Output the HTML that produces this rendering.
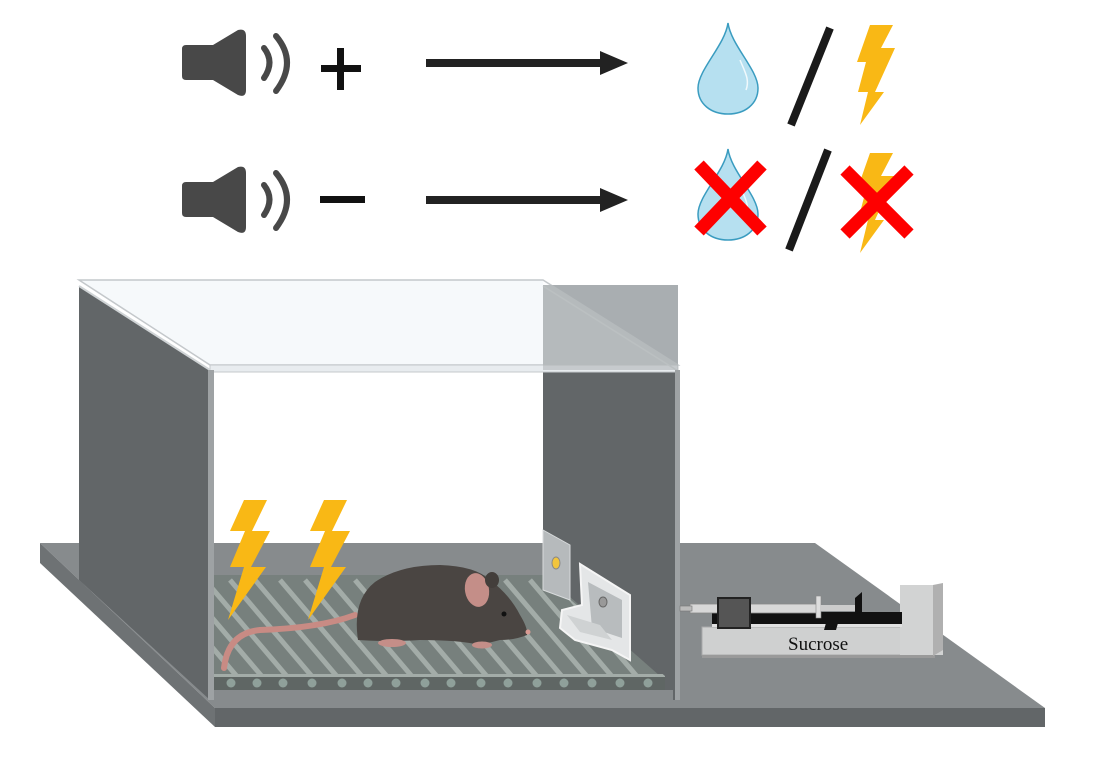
<!DOCTYPE html>
<html><head><meta charset="utf-8"><style>html,body{margin:0;padding:0;background:#fff}svg{display:block}</style></head>
<body>
<svg width="1097" height="768" viewBox="0 0 1097 768" xmlns="http://www.w3.org/2000/svg">
<defs>
<g id="spk">
  <path d="M186,45 L213,45 L238,30 Q246,28 246,36 L246,90 Q246,98 238,95 L213,80 L186,80 Q182,80 182,76 L182,49 Q182,45 186,45 Z" fill="#484848"/>
  <path d="M264,48 Q275,62 264,78" fill="none" stroke="#484848" stroke-width="6" stroke-linecap="round"/>
  <path d="M276,36 Q298,62 276,91" fill="none" stroke="#484848" stroke-width="6" stroke-linecap="round"/>
</g>
<g id="arrow">
  <rect x="426" y="59" width="176" height="8" fill="#222"/>
  <polygon points="600,51 628,63 600,75" fill="#222"/>
</g>
<g id="drop">
  <path d="M728,23 C731,45 758,70 758,88 C758,104 745,114 728,114 C711,114 698,104 698,88 C698,70 725,45 728,23 Z" fill="#b6e0f0" stroke="#3a9cc0" stroke-width="1.5"/>
  <path d="M740,60 C745,72 750,80 746,90" fill="none" stroke="#fff" stroke-width="1.5" opacity="0.8"/>
</g>
<g id="bolt">
  <polygon points="870,25 893,25 881,48 895,48 875,92 884,92 860,125 868,92 858,92 866,62 857,62" fill="#f9b815"/>
</g>
<g id="bigbolt">
  <polygon points="244,500 267,500 252,531 270,531 251,567 266,567 228,620 244,567 230,567 245,531 230,531" fill="#f9b815"/>
</g>
<clipPath id="fl2"><polygon points="213,578 545,578 660,676 213,676"/></clipPath>
</defs>

<use href="#spk"/>
<rect x="321" y="65" width="40" height="7" fill="#111"/>
<rect x="337" y="48" width="7" height="42" fill="#111"/>
<use href="#arrow"/>
<use href="#drop"/>
<line x1="791" y1="125" x2="830" y2="28" stroke="#1a1a1a" stroke-width="8"/>
<use href="#bolt"/>

<use href="#spk" transform="translate(0,137)"/>
<rect x="320" y="196" width="45" height="7" fill="#111"/>
<use href="#arrow" transform="translate(0,137)"/>
<use href="#drop" transform="translate(0,126)"/>
<line x1="789" y1="250" x2="828" y2="150" stroke="#1a1a1a" stroke-width="8"/>
<use href="#bolt" transform="translate(0,128)"/>
<g stroke="#fe0000" stroke-width="13">
  <line x1="699" y1="165" x2="762" y2="231"/><line x1="762" y1="165" x2="699" y2="231"/>
  <line x1="845" y1="170" x2="909" y2="234"/><line x1="909" y1="170" x2="845" y2="234"/>
</g>

<polygon points="40,543 815,543 1045,708 215,708" fill="#878b8d"/>
<polygon points="40,543 215,708 215,727 40,563" fill="#6e7274"/>
<rect x="215" y="708" width="830" height="19" fill="#626668"/>

<polygon points="79,286 210,370 210,700 79,580" fill="#626668"/>
<rect x="543" y="285" width="135" height="415" fill="#626668"/>
<rect x="543" y="285" width="135" height="85" fill="#a9aeb1"/>
<rect x="212" y="370" width="331" height="173" fill="#ffffff"/>
<rect x="212" y="543" width="331" height="32" fill="#878b8d"/>
<!-- lid (transparent) -->
<polygon points="79,280 543,280 678,365 210,365" fill="#f5f8fb" opacity="0.35"/>
<polygon points="79,280 543,280 543,370 210,365" fill="#f5f8fb" opacity="0.9" clip-path="none"/>
<polygon points="79,280 543,280 678,365 210,365" fill="none" stroke="#c4c8cb" stroke-width="1.5"/>
<polygon points="210,365 678,365 678,372 210,372" fill="#e8ecef" stroke="#c4c8cb" stroke-width="1"/>
<line x1="79" y1="286" x2="210" y2="370" stroke="#d0d4d6" stroke-width="2"/>
<line x1="543" y1="286" x2="678" y2="371" stroke="#d0d4d6" stroke-width="1.5"/>
<rect x="543" y="285" width="135" height="85" fill="#a9aeb1" opacity="0.55"/>

<polygon points="213,575 545,575 660,676 213,676" fill="#77807d"/>
<g stroke="#a3aca8" stroke-width="5" clip-path="url(#fl2)">
  <line x1="205" y1="580" x2="290" y2="680"/><line x1="230" y1="580" x2="315" y2="680"/>
  <line x1="255" y1="580" x2="340" y2="680"/><line x1="280" y1="580" x2="365" y2="680"/>
  <line x1="305" y1="580" x2="390" y2="680"/><line x1="330" y1="580" x2="415" y2="680"/>
  <line x1="355" y1="580" x2="440" y2="680"/><line x1="380" y1="580" x2="465" y2="680"/>
  <line x1="405" y1="580" x2="490" y2="680"/><line x1="430" y1="580" x2="515" y2="680"/>
  <line x1="455" y1="580" x2="540" y2="680"/><line x1="480" y1="580" x2="565" y2="680"/>
  <line x1="505" y1="580" x2="590" y2="680"/><line x1="530" y1="580" x2="615" y2="680"/>
  <line x1="555" y1="580" x2="640" y2="680"/><line x1="180" y1="580" x2="265" y2="680"/>
  <line x1="155" y1="580" x2="240" y2="680"/>
</g>
<rect x="213" y="674" width="452" height="3" fill="#a3aca8"/>
<rect x="213" y="677" width="452" height="13" fill="#5f6664"/>
<g fill="#8fa09a">
  <circle cx="231" cy="683" r="4.5"/><circle cx="257" cy="683" r="4.5"/><circle cx="283" cy="683" r="4.5"/><circle cx="312" cy="683" r="4.5"/><circle cx="342" cy="683" r="4.5"/><circle cx="368" cy="683" r="4.5"/><circle cx="396" cy="683" r="4.5"/><circle cx="425" cy="683" r="4.5"/><circle cx="451" cy="683" r="4.5"/><circle cx="481" cy="683" r="4.5"/><circle cx="508" cy="683" r="4.5"/><circle cx="537" cy="683" r="4.5"/><circle cx="564" cy="683" r="4.5"/><circle cx="592" cy="683" r="4.5"/><circle cx="620" cy="683" r="4.5"/><circle cx="648" cy="683" r="4.5"/>
</g>
<rect x="213" y="690" width="460" height="10" fill="#878b8d"/>
<polygon points="545,575 665,676 675,676 675,575" fill="#626668"/>
<rect x="208" y="370" width="6" height="330" fill="#9ea2a4"/>
<rect x="675" y="370" width="5" height="330" fill="#9ea2a4"/>

<polygon points="543,530 570,545 570,600 543,590" fill="#b6babc" stroke="#d8dbdc" stroke-width="1"/>
<ellipse cx="556" cy="563" rx="4" ry="6" fill="#f2c53d" stroke="#888" stroke-width="1"/>
<polygon points="580,564 630,595 630,660 612,650 575,640 560,628 562,610 582,605" fill="#e4e6e7" stroke="#f5f5f5" stroke-width="2"/>
<polygon points="588,582 622,600 622,638 592,628" fill="#b8bcbe"/>
<ellipse cx="603" cy="602" rx="4" ry="5" fill="#999" stroke="#666"/>
<polygon points="567,615 600,625 612,640 580,632" fill="#cfd2d3"/>

<use href="#bigbolt"/>
<use href="#bigbolt" transform="translate(80,0)"/>

<path d="M355,615 Q320,628 260,630 Q228,633 224,668" fill="none" stroke="#c88b84" stroke-width="6" stroke-linecap="round"/>
<path d="M358,640 Q352,600 375,582 Q400,565 440,565 Q475,566 490,580 Q510,595 520,615 Q528,628 527,635 Q515,640 500,640 L480,645 Q460,640 420,640 Q385,642 358,640 Z" fill="#4a4542"/>
<ellipse cx="477" cy="590" rx="12" ry="17" fill="#c48e88" transform="rotate(-10 477 590)"/>
<ellipse cx="492" cy="580" rx="7" ry="8" fill="#433e3b"/>
<circle cx="504" cy="614" r="2.5" fill="#111"/>
<ellipse cx="392" cy="643" rx="14" ry="4" fill="#c48e88"/>
<ellipse cx="482" cy="645" rx="10" ry="3.5" fill="#c48e88"/>
<circle cx="528" cy="632" r="2.5" fill="#d99a93"/>

<polygon points="702,627 905,627 905,655 702,655" fill="#cfd0d0" stroke="#aaa" stroke-width="1"/>
<polygon points="702,655 935,655 935,658 702,658" fill="#9a9a9a"/>
<polygon points="900,585 943,585 943,655 900,655" fill="#d2d3d3"/>
<polygon points="933,585 943,583 943,650 933,656" fill="#b0b0b0"/>
<rect x="712" y="612" width="190" height="12" fill="#111"/>
<rect x="712" y="624" width="190" height="3" fill="#e0e0e0"/>
<rect x="690" y="604" width="130" height="9" fill="#d8d8d8" stroke="#888" stroke-width="0.8"/>
<rect x="680" y="606" width="12" height="5" fill="#bbb" stroke="#777" stroke-width="0.6"/>
<rect x="816" y="596" width="5" height="22" fill="#ddd" stroke="#888" stroke-width="0.6"/>
<rect x="820" y="605" width="38" height="6" fill="#ccc"/>
<polygon points="855,598 862,592 862,612 855,614" fill="#111"/>
<rect x="718" y="598" width="32" height="30" fill="#555" stroke="#222" stroke-width="2"/>
<polygon points="826,623 838,623 836,630 824,630" fill="#111"/>
<text x="788" y="650" font-family="'Liberation Serif', serif" font-size="19" fill="#111">Sucrose</text>
</svg>
</body></html>
